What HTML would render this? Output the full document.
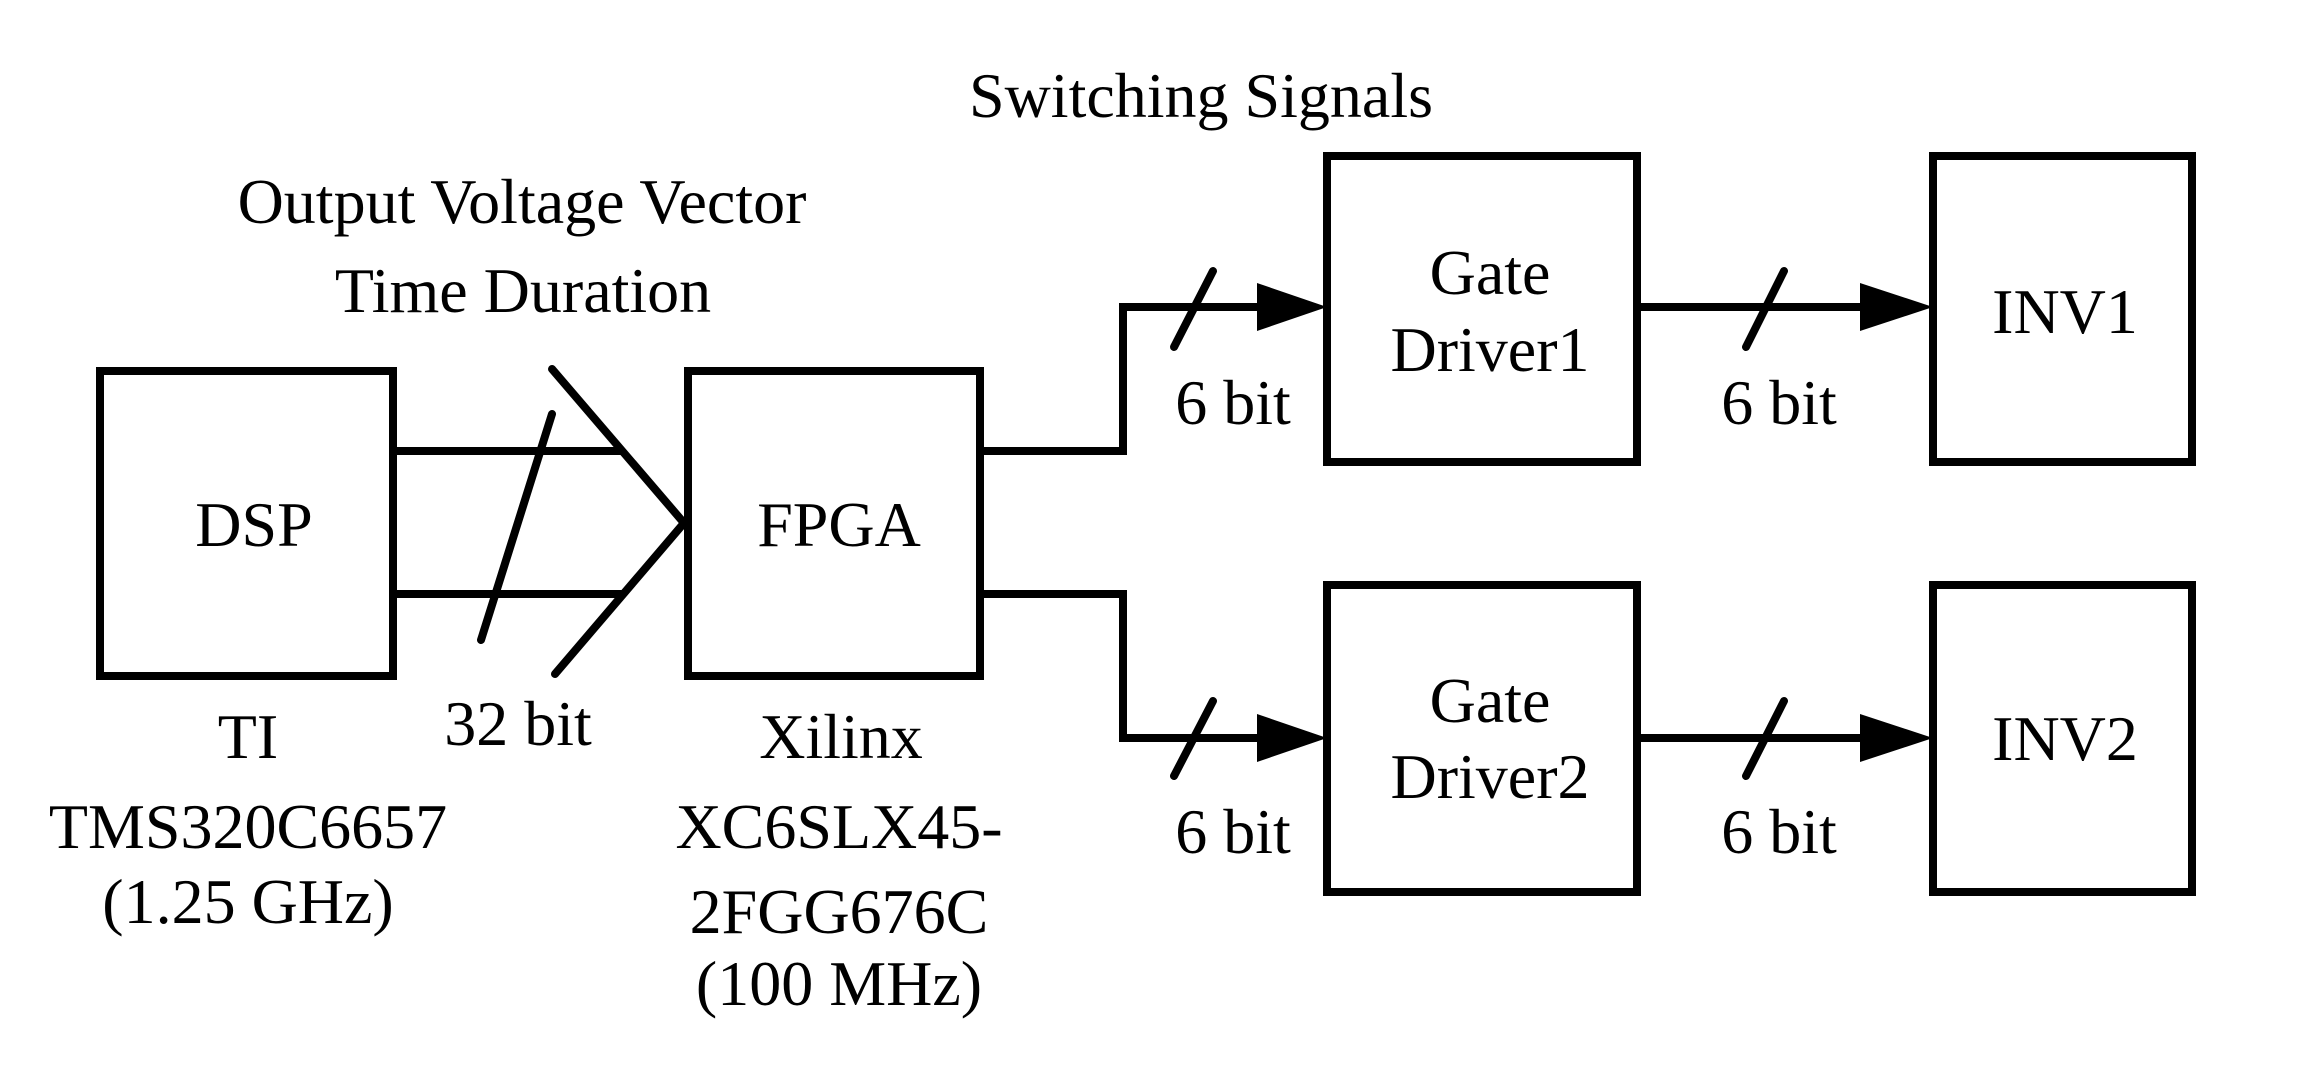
<!DOCTYPE html>
<html><head><style>html,body{margin:0;padding:0;background:#fff}</style></head>
<body>
<svg width="2302" height="1076" viewBox="0 0 2302 1076" xmlns="http://www.w3.org/2000/svg" font-family="Liberation Serif, serif" font-size="64" text-anchor="middle" fill="#000">
<g fill="none" stroke="#000" stroke-width="8" stroke-linecap="round" stroke-linejoin="miter">
<rect x="100" y="371" width="293" height="305"/>
<rect x="688" y="371" width="292" height="305"/>
<rect x="1327" y="156" width="310" height="306"/>
<rect x="1933" y="156" width="259" height="306"/>
<rect x="1327" y="585" width="310" height="307"/>
<rect x="1933" y="585" width="259" height="307"/>
<line x1="393" y1="451" x2="621" y2="451"/>
<line x1="393" y1="594" x2="621" y2="594"/>
<polyline points="552,369 684,523 555,674"/>
<line x1="552" y1="414" x2="481" y2="640"/>
<polyline points="980,451 1123,451 1123,307 1260,307"/>
<polyline points="980,594 1123,594 1123,738 1260,738"/>
<line x1="1637" y1="307" x2="1862" y2="307"/>
<line x1="1637" y1="738" x2="1862" y2="738"/>
<line x1="1213" y1="271" x2="1174" y2="347"/>
<line x1="1784" y1="271" x2="1746" y2="347"/>
<line x1="1213" y1="701" x2="1174" y2="776"/>
<line x1="1784" y1="701" x2="1746" y2="776"/>
</g>
<polygon points="1257,283 1327,307 1257,331"/>
<polygon points="1257,714 1327,738 1257,762"/>
<polygon points="1860,283 1933,307 1860,331"/>
<polygon points="1860,714 1933,738 1860,762"/>
<text x="1201" y="117">Switching Signals</text>
<text x="522" y="223">Output Voltage Vector</text>
<text x="523" y="312">Time Duration</text>
<text x="254" y="546">DSP</text>
<text x="839" y="546">FPGA</text>
<text x="248" y="758">TI</text>
<text x="518" y="745">32 bit</text>
<text x="841" y="758">Xilinx</text>
<text x="248" y="848">TMS320C6657</text>
<text x="248" y="923">(1.25 GHz)</text>
<text x="839" y="848">XC6SLX45-</text>
<text x="839" y="933">2FGG676C</text>
<text x="839" y="1005">(100 MHz)</text>
<text x="1233" y="424">6 bit</text>
<text x="1779" y="424">6 bit</text>
<text x="1233" y="853">6 bit</text>
<text x="1779" y="853">6 bit</text>
<text x="1490" y="294">Gate</text>
<text x="1490" y="371">Driver1</text>
<text x="1490" y="722">Gate</text>
<text x="1490" y="798">Driver2</text>
<text x="2065" y="333">INV1</text>
<text x="2065" y="760">INV2</text>
</svg>
</body></html>
